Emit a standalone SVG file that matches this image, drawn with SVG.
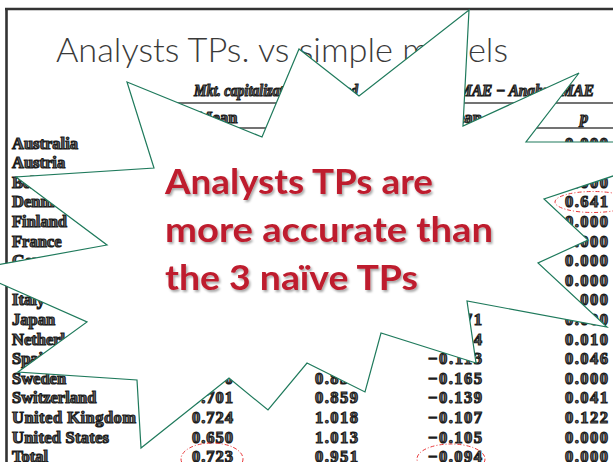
<svg xmlns="http://www.w3.org/2000/svg" width="613" height="462" viewBox="0 0 613 462">
<defs>
<style>
.frame{stroke:#333;stroke-width:2.6;fill:none}
.title{font-family:Lato,"Liberation Sans",sans-serif;font-weight:300;font-size:33px;fill:#3a3a3a}
.t{font-family:"Liberation Serif",serif;font-weight:bold;font-size:16.5px;fill:#6e6e6e;stroke:#1c1c1c;stroke-width:1.15}
.e{text-anchor:end}
.i{font-style:italic}
.rule{stroke:#444;stroke-width:1.6}
.hl{fill:none;stroke:#e8383a;stroke-width:1;stroke-dasharray:4 2 1 2}
.burst{fill:#fff;stroke:#1f7a5c;stroke-width:1.2;stroke-linejoin:miter}
.red{font-family:Lato,"Open Sans",sans-serif;font-weight:bold;font-size:35px;fill:#be1e2d}
</style>
<filter id="sh" x="-10%" y="-30%" width="120%" height="160%">
<feDropShadow dx="1.5" dy="2" stdDeviation="1.2" flood-color="#000" flood-opacity="0.35"/>
</filter>
</defs>
<rect width="613" height="462" fill="#fff"/>
<g id="frame">
<line class="frame" x1="5" y1="9" x2="613" y2="9"/>
<line class="frame" x1="6.5" y1="8" x2="6.5" y2="462"/>
</g>
<g id="title">
<text class="title" x="56" y="62" textLength="452" lengthAdjust="spacingAndGlyphs">Analysts TPs. vs simple models</text>
</g>
<g id="table">
<text class="t i" x="194" y="96" textLength="164" lengthAdjust="spacingAndGlyphs">Mkt. capitalization-weighted</text>
<text class="t i e" x="594" y="96" textLength="176" lengthAdjust="spacingAndGlyphs">Naïve MAE − Analyst MAE</text>
<line class="rule" x1="177" y1="103" x2="370" y2="103"/>
<line class="rule" x1="395" y1="103" x2="613" y2="103"/>
<text class="t" x="197" y="123">Mean</text>
<text class="t e" x="482" y="123">Mean</text>
<text class="t i" x="580" y="123">p</text>
<line class="rule" x1="177" y1="128" x2="370" y2="128"/>
<line class="rule" x1="395" y1="128" x2="613" y2="128"/>
<g id="names">
<text class="t" x="12" y="148.5">Australia</text>
<text class="t" x="12" y="168.1">Austria</text>
<text class="t" x="12" y="187.7">Belgium</text>
<text class="t" x="12" y="207.3">Denmark</text>
<text class="t" x="12" y="226.9">Finland</text>
<text class="t" x="12" y="246.5">France</text>
<text class="t" x="12" y="266.1">Germany</text>
<text class="t" x="12" y="305.3">Italy</text>
<text class="t" x="12" y="324.9">Japan</text>
<text class="t" x="12" y="344.5">Netherlands</text>
<text class="t" x="12" y="364.1">Spain</text>
<text class="t" x="12" y="383.7">Sweden</text>
<text class="t" x="12" y="403.3">Switzerland</text>
<text class="t" x="12" y="422.9" textLength="124">United Kingdom</text>
<text class="t" x="12" y="442.5" textLength="97">United States</text>
<text class="t" x="12" y="461.5">Total</text>
</g>
<g id="col1">
<text class="t e" x="233" y="383.7" textLength="41">0.690</text>
<text class="t e" x="233" y="403.3" textLength="41">0.701</text>
<text class="t e" x="233" y="422.9" textLength="41">0.724</text>
<text class="t e" x="233" y="442.5" textLength="41">0.650</text>
<text class="t e" x="233" y="461.5" textLength="41">0.723</text>
</g>
<g id="col2">
<text class="t e" x="358" y="383.7" textLength="43">0.858</text>
<text class="t e" x="358" y="403.3" textLength="43">0.859</text>
<text class="t e" x="358" y="422.9" textLength="43">1.018</text>
<text class="t e" x="358" y="442.5" textLength="43">1.013</text>
<text class="t e" x="358" y="461.5" textLength="43">0.951</text>
</g>
<g id="col3">
<text class="t e" x="482" y="324.9" textLength="54">−0.071</text>
<text class="t e" x="482" y="344.5" textLength="54">−0.054</text>
<text class="t e" x="482" y="364.1" textLength="54">−0.113</text>
<text class="t e" x="482" y="383.7" textLength="54">−0.165</text>
<text class="t e" x="482" y="403.3" textLength="54">−0.139</text>
<text class="t e" x="482" y="422.9" textLength="54">−0.107</text>
<text class="t e" x="482" y="442.5" textLength="54">−0.105</text>
<text class="t e" x="482" y="461.5" textLength="54">−0.094</text>
</g>
<g id="col4">
<text class="t e" x="608" y="148.5" textLength="43">0.000</text>
<text class="t e" x="608" y="187.7" textLength="43">0.000</text>
<text class="t e" x="608" y="207.3" textLength="43">0.641</text>
<text class="t e" x="608" y="226.9" textLength="43">0.000</text>
<text class="t e" x="608" y="246.5" textLength="43">0.000</text>
<text class="t e" x="608" y="266.1" textLength="43">0.000</text>
<text class="t e" x="608" y="285.7" textLength="43">0.000</text>
<text class="t e" x="608" y="305.3" textLength="43">0.000</text>
<text class="t e" x="608" y="324.9" textLength="43">0.000</text>
<text class="t e" x="608" y="344.5" textLength="43">0.010</text>
<text class="t e" x="608" y="364.1" textLength="43">0.046</text>
<text class="t e" x="608" y="383.7" textLength="43">0.000</text>
<text class="t e" x="608" y="403.3" textLength="43">0.041</text>
<text class="t e" x="608" y="422.9" textLength="43">0.122</text>
<text class="t e" x="608" y="442.5" textLength="43">0.000</text>
<text class="t e" x="608" y="461.5" textLength="43">0.000</text>
</g>
</g>
<g id="highlights">
<ellipse class="hl" cx="593" cy="202" rx="38" ry="10.5"/>
<ellipse class="hl" cx="212" cy="459" rx="31" ry="16"/>
<ellipse class="hl" cx="451" cy="459" rx="34" ry="15"/>
</g>
<g id="callout">
<polygon class="burst" points="127,82 262,137 299,49 359,96 469,10 463,126 579,73 526,142 616,142 616,175 544,199 588,240 538,263 607,327 467,301 476,363 381,333 365,392 307,363 268,410 229,378 141,448 137,380 18,372 87,322 -3,282 -3,265 107,245 16,177 154,168"/>
<g filter="url(#sh)">
<text class="red" x="165" y="194" textLength="268" lengthAdjust="spacingAndGlyphs">Analysts TPs are</text>
<text class="red" x="165" y="242" textLength="328" lengthAdjust="spacingAndGlyphs">more accurate than</text>
<text class="red" x="165" y="290" textLength="253" lengthAdjust="spacingAndGlyphs">the 3 naïve TPs</text>
</g>
</g>
</svg>
